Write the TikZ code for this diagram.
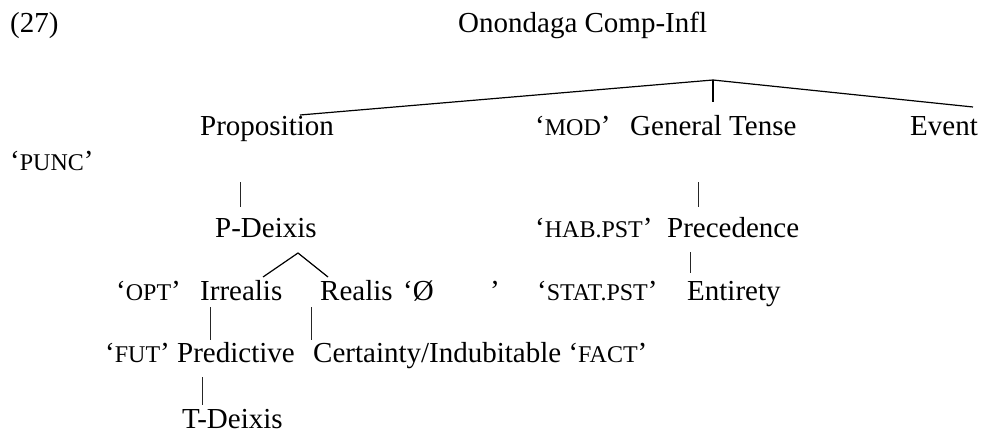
\documentclass[tikz,border=0pt]{standalone}
\usepackage{fontspec}
\setmainfont{Liberation Serif}
\newcommand{\smc}[1]{{\fontsize{24}{24}\selectfont #1}}
\begin{document}
\begin{tikzpicture}[x=1pt,y=-1pt,
  lbl/.style={anchor=base west,inner sep=0pt,font=\fontsize{29}{29}\selectfont},
  edge/.style={line width=1.2pt},
  bar/.style={line width=1pt,black!85}]
\useasboundingbox[fill=white] (0,0) rectangle (981,441);
% texts
\node[lbl] (num) at (10,33) {(27)};
\node[lbl] (title) at (458,33) {Onondaga Comp-Infl};
\node[lbl] (prop) at (200,135) {Proposition};
\node[lbl] (mod) at (535,135) {‘\smc{MOD}’};
\node[lbl] (gt) at (630,135) {General Tense};
\node[lbl] (event) at (910,135) {Event};
\node[lbl] (punc) at (10,170) {‘\smc{PUNC}’};
\node[lbl] (pdeix) at (215,237) {P-Deixis};
\node[lbl] (hab) at (535,237) {‘\smc{HAB.PST}’};
\node[lbl] (prec) at (667,237) {Precedence};
\node[lbl] (opt) at (116,300) {‘\smc{OPT}’};
\node[lbl] (irr) at (200,300) {Irrealis};
\node[lbl] (real) at (320,300) {Realis};
\node[lbl] (zero) at (403,300) {‘Ø};
\node[lbl] (zeroq) at (490,300) {’};
\node[lbl] (stat) at (537,300) {‘\smc{STAT.PST}’};
\node[lbl] (ent) at (687,300) {Entirety};
\node[lbl] (fut) at (105,362) {‘\smc{FUT}’};
\node[lbl] (pred) at (177,362) {Predictive};
\node[lbl] (cert) at (313,362) {Certainty/Indubitable ‘\smc{FACT}’};
\node[lbl] (tdeix) at (182,428) {T-Deixis};
% connector points
\coordinate (apex) at (713,80);
\coordinate (propT) at (300,115);
\coordinate (eventT) at (973,107);
\coordinate (gtT) at (713,102);
\coordinate (propB) at (240,182);
\coordinate (pdeixT) at (240,207);
\coordinate (pdApex) at (298,253);
\coordinate (irrT) at (263,277);
\coordinate (realT) at (328,277);
\coordinate (gtB) at (698,182);
\coordinate (precT) at (698,207);
\coordinate (precB) at (690,252);
\coordinate (entT) at (690,273);
\coordinate (irrB) at (210,307);
\coordinate (predT) at (210,340);
\coordinate (realB) at (311,307);
\coordinate (certT) at (311,340);
\coordinate (predB) at (202,377);
\coordinate (tdeixT) at (202,405);
% connectors
\draw[edge] (propT) -- (apex) -- (eventT);
\draw[edge] (apex) -- (gtT);
\draw[edge] (irrT) -- (pdApex) -- (realT);
\draw[bar] (propB) -- (pdeixT);
\draw[bar] (gtB) -- (precT);
\draw[bar] (precB) -- (entT);
\draw[bar] (irrB) -- (predT);
\draw[bar] (realB) -- (certT);
\draw[bar] (predB) -- (tdeixT);
\end{tikzpicture}
\end{document}
